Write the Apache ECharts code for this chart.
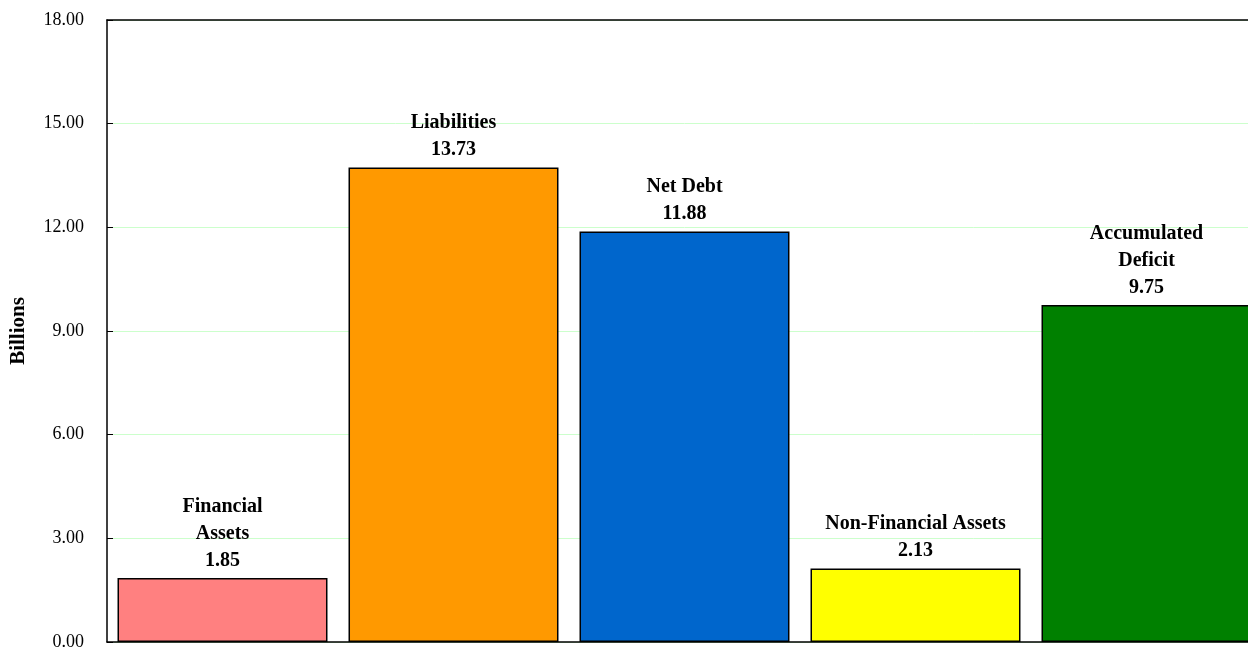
<!DOCTYPE html>
<html>
<head>
<meta charset="utf-8">
<script src="https://cdn.jsdelivr.net/npm/echarts@6/dist/echarts.min.js"></script>
<style>
  html, body { margin: 0; padding: 0; background: #fff; overflow: hidden; }
  #chart { width: 1262px; height: 649px; }
</style>
</head>
<body>
<div id="chart"></div>
<script>
// Balance sheet components (billions)
const categories = ['Financial\nAssets', 'Liabilities', 'Net Debt', 'Non-Financial Assets', 'Accumulated\nDeficit'];
const values = [1.85, 13.73, 11.88, 2.13, 9.75];
const barColors = ['#FF8080', '#FF9900', '#0066CC', '#FFFF00', '#008000'];
const yTicks = { min: 0, max: 18, interval: 3 };

const chart = echarts.init(document.getElementById('chart'));
const serif = '"Liberation Serif", "Times New Roman", serif';
const frameLine = { show: true, lineStyle: { color: '#000', width: 1.5 } };

chart.setOption({
  animation: false,
  grid: { left: 107, top: 20, bottom: 7, right: 0, outerBoundsMode: 'none', containLabel: false },
  xAxis: [{
    type: 'category',
    data: categories,
    axisLine: frameLine,
    axisTick: { show: false },
    axisLabel: { show: false }
  }, {
    // top edge of the plot frame
    type: 'category',
    position: 'top',
    data: categories,
    axisLine: frameLine,
    axisTick: { show: false },
    axisLabel: { show: false }
  }],
  yAxis: {
    type: 'value',
    min: yTicks.min, max: yTicks.max, interval: yTicks.interval,
    name: 'Billions',
    nameLocation: 'middle',
    nameGap: 78,
    nameRotate: 90,
    nameTextStyle: { fontFamily: serif, fontWeight: 'bold', fontSize: 21, color: '#000' },
    axisLine: frameLine,
    axisTick: { show: true, inside: true, length: 6, lineStyle: { color: '#000' } },
    axisLabel: {
      margin: 23,
      fontFamily: serif, fontSize: 18, color: '#000',
      formatter: v => v.toFixed(2)
    },
    splitLine: { show: true, lineStyle: { color: '#CCFFCC', width: 1 } }
  },
  series: [{
    type: 'bar',
    barCategoryGap: '9.1%',
    data: values.map((v, i) => ({
      value: v,
      itemStyle: { color: barColors[i] }
    })),
    itemStyle: { borderColor: '#000', borderWidth: 1.5 },
    label: {
      show: true,
      position: 'top',
      distance: 4,
      fontFamily: serif,
      fontWeight: 'bold',
      fontSize: 20,
      lineHeight: 27,
      color: '#000',
      align: 'center',
      formatter: p => p.name + '\n' + p.value.toFixed(2)
    }
  }]
});
</script>
</body>
</html>
